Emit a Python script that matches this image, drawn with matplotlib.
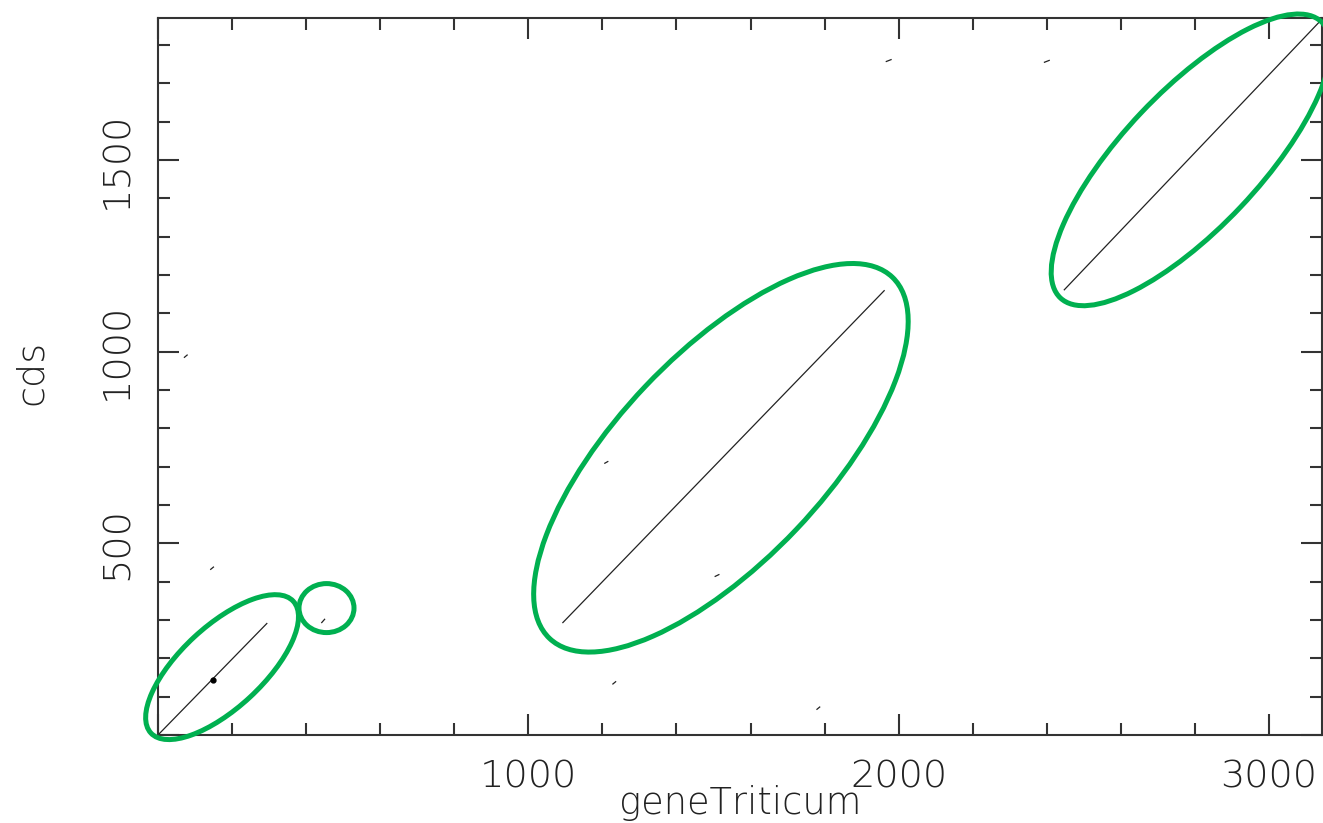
import numpy as np
import matplotlib
matplotlib.use('Agg')
import matplotlib.pyplot as plt
from matplotlib.patches import Ellipse
from matplotlib.ticker import MultipleLocator, FuncFormatter
from matplotlib.transforms import IdentityTransform

plt.rcParams['text.kerning_factor'] = 6

# longitudes de las secuencias (ejes)
len_gene = 3143
len_cds = 1870

# segmentos diagonales del dotplot: (x0, y0, x1, y1)
seg_x0 = [0, 441, 1092, 2446, 1965, 2392, 70, 141, 1205, 1503, 1227, 1778]
seg_y0 = [0, 292, 292, 1160, 1756, 1754, 984, 431, 708, 413, 132, 66]
seg_x1 = [295, 451, 1962, 3143, 1981, 2408, 80, 151, 1216, 1516, 1237, 1788]
seg_y1 = [292, 303, 1160, 1867, 1762, 1760, 992, 439, 714, 419, 140, 74]

# punto marcado sobre el primer segmento
dot_x = [149]
dot_y = [143]

# elipses verdes de anotacion: centro en datos, tamaño en pixeles
ell_cx = [173, 455, 1520, 2789]
ell_cy = [177, 331, 723, 1500]
ell_w = [194, 55, 498, 380]
ell_h = [82, 49, 208, 137]
ell_ang = [42.8, 0, 46.5, 46.6]

W, H = 1323, 823
fig = plt.figure(figsize=(W / 100, H / 100), dpi=100)
ax = fig.add_axes([158 / W, (H - 735) / H, 1164 / W, 717 / H])

for i in range(len(seg_x0)):
    ax.plot([seg_x0[i], seg_x1[i]], [seg_y0[i], seg_y1[i]], color='#222222', lw=0.9, solid_capstyle='butt')
ax.plot(dot_x, dot_y, 'o', color='black', ms=3.5)

ax.set_xlim(0, len_gene)
ax.set_ylim(0, len_cds)

ax.xaxis.set_major_locator(MultipleLocator(1000))
ax.xaxis.set_minor_locator(MultipleLocator(200))
ax.yaxis.set_major_locator(MultipleLocator(500))
ax.yaxis.set_minor_locator(MultipleLocator(100))
fmt = FuncFormatter(lambda v, p: '' if v == 0 else '%d' % v)
ax.xaxis.set_major_formatter(fmt)
ax.yaxis.set_major_formatter(fmt)

ax.tick_params(which='both', direction='in', top=True, right=True, color='#333333', width=1.5)
ax.tick_params(which='major', length=15)
ax.tick_params(which='minor', length=8.5)
ax.tick_params(axis='x', which='major', labelsize=27.5, pad=18, labelcolor='#222222')
ax.tick_params(axis='y', which='major', labelsize=27.5, pad=17, labelcolor='#222222')
for lab in ax.get_yticklabels():
    lab.set_rotation(90)
    lab.set_va('center')
for lab in ax.get_xticklabels() + ax.get_yticklabels():
    lab.set_fontweight('light')
for s in ax.spines.values():
    s.set_linewidth(1.5)
    s.set_color('#333333')

fig.text(740 / W, 1 - 785 / H, 'geneTriticum', ha='center', va='top', fontsize=26.5,
         color='#222222', fontweight='light')
fig.text(31 / W, 1 - 372 / H, 'cds', ha='center', va='center', rotation=90, fontsize=27.5,
         color='#222222', fontweight='light')

# elipses en coordenadas de pantalla
for i in range(len(ell_cx)):
    cx, cy = ax.transData.transform((ell_cx[i], ell_cy[i]))
    e = Ellipse((cx, cy), ell_w[i], ell_h[i], angle=ell_ang[i], fill=False,
                edgecolor='#00B050', lw=3.6, transform=IdentityTransform(), clip_on=False)
    fig.add_artist(e)

fig.savefig('out.png', dpi=100)
